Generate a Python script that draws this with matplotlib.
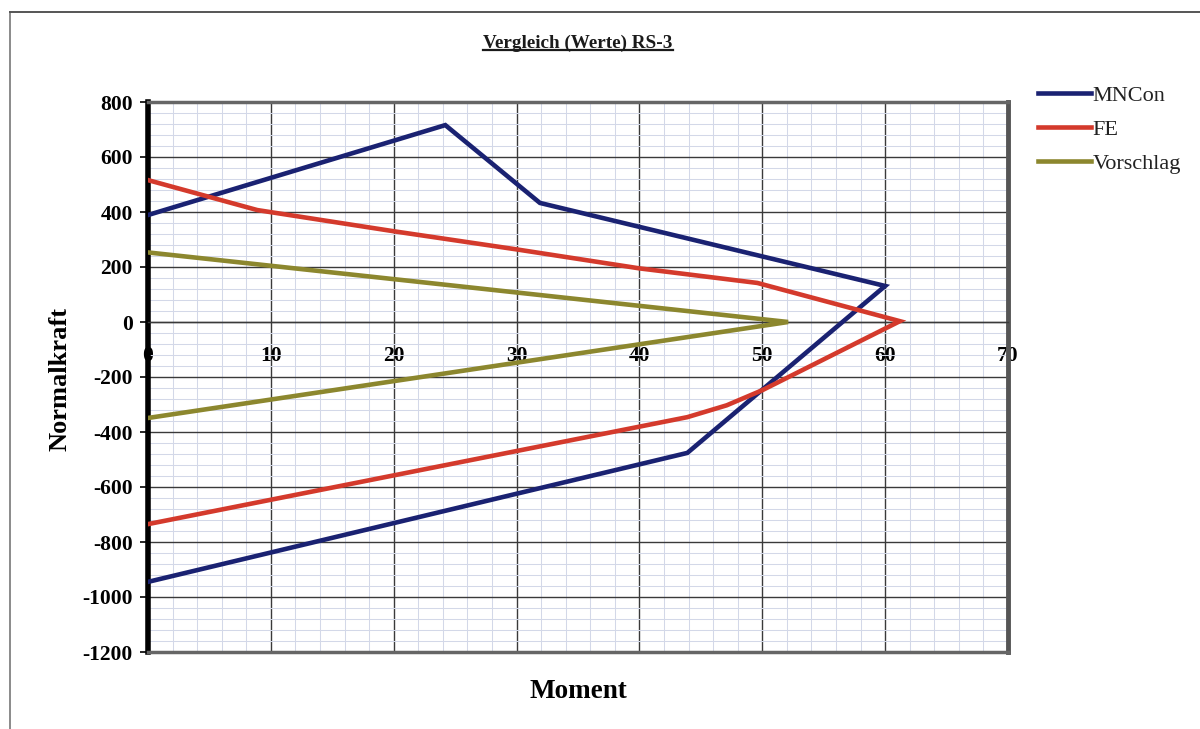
import matplotlib
matplotlib.use("Agg")
import matplotlib.pyplot as plt
from matplotlib.lines import Line2D
from matplotlib.ticker import MultipleLocator

# Interaction diagram values: Moment (x) vs. Normalkraft (y)
mncon_moment = [0, 24.2, 31.9, 60.0, 43.9, 0]
mncon_normal = [389, 716, 433, 131, -476, -945]

fe_moment = [0, 8.9, 20, 30, 40, 49.6, 61.2, 50, 47.1, 43.9, 0]
fe_normal = [516, 407, 330, 264, 195, 142, 3, -248, -303, -346, -735]

vor_moment = [0, 52.1, 0]
vor_normal = [253, 0, -349]

series_names = ["MNCon", "FE", "Vorschlag"]
series_colors = ["#1a2272", "#d43a2c", "#8c872e"]

x_ticks = [0, 10, 20, 30, 40, 50, 60, 70]
y_ticks = [800, 600, 400, 200, 0, -200, -400, -600, -800, -1000, -1200]

serif = ["Liberation Serif", "DejaVu Serif"]
plt.rcParams["font.family"] = serif

fig = plt.figure(figsize=(12, 7.29), dpi=100)
ax = fig.add_axes([148 / 1200, 1 - 652 / 729, 860 / 1200, 550 / 729])

ax.set_xlim(0, 70)
ax.set_ylim(-1200, 800)

# grid
ax.xaxis.set_major_locator(MultipleLocator(10))
ax.xaxis.set_minor_locator(MultipleLocator(2))
ax.yaxis.set_major_locator(MultipleLocator(200))
ax.yaxis.set_minor_locator(MultipleLocator(40))
ax.grid(which="minor", color="#d3d8e8", linewidth=0.75, zorder=0)
ax.grid(which="major", color="#3a3a3a", linewidth=1.0, zorder=0.5)
ax.set_axisbelow(True)

lines = []
for xs, ys, name, col in [
    (mncon_moment, mncon_normal, series_names[0], series_colors[0]),
    (fe_moment, fe_normal, series_names[1], series_colors[1]),
    (vor_moment, vor_normal, series_names[2], series_colors[2]),
]:
    (ln,) = ax.plot(xs, ys, color=col, linewidth=3.3, label=name,
                    solid_joinstyle="miter", zorder=3)
    lines.append(ln)

# axes: category axis crosses at Normalkraft = 0
ax.spines["bottom"].set_position(("data", 0))
ax.spines["bottom"].set_color("#3a3a3a")
ax.spines["bottom"].set_linewidth(1.0)
ax.spines["left"].set_color("black")
ax.spines["left"].set_linewidth(4.0)
ax.spines["top"].set_color("#666666")
ax.spines["top"].set_linewidth(2.5)
ax.spines["right"].set_color("#555555")
ax.spines["right"].set_linewidth(3.5)
# plot-area bottom border
ax.plot([0, 1], [0, 0], transform=ax.transAxes, color="#666666",
        linewidth=2.5, clip_on=False, zorder=4)

ax.set_xticks(x_ticks)
ax.set_yticks(y_ticks)
ax.set_xticklabels([str(v) for v in x_ticks])
ax.set_yticklabels([str(v) for v in y_ticks])
ax.tick_params(axis="x", which="both", length=0, pad=17)
ax.tick_params(axis="y", which="major", direction="out", length=6,
               width=1.2, pad=5.0, colors="black")
ax.tick_params(axis="y", which="minor", length=0)
for lab in ax.get_xticklabels() + ax.get_yticklabels():
    lab.set_fontweight("bold")
    lab.set_fontsize(15.5)

ax.set_xlabel("Moment", fontsize=19.5, fontweight="bold")
ax.xaxis.set_label_coords(0.5, -0.05)
ax.set_ylabel("Normalkraft", fontsize=19, fontweight="bold")
ax.yaxis.set_label_coords(-0.0895, 0.496)

leg = fig.legend(handles=lines, labels=series_names, loc="upper left",
                 bbox_to_anchor=(1038 / 1200, 1 - 85 / 729), frameon=False,
                 fontsize=16, handlelength=2.4, handletextpad=0.05,
                 labelspacing=0.62, borderaxespad=0, borderpad=0)
for t in leg.get_texts():
    t.set_color("#222222")

# title, underlined
title = fig.text(578 / 1200, 1 - 43 / 729, "Vergleich (Werte) RS-3",
                 ha="center", va="center", fontsize=13.8, fontweight="bold",
                 color="#1a1a1a")
fig.canvas.draw()
bb = title.get_window_extent().transformed(fig.transFigure.inverted())
uy = bb.y0 + 0.002
fig.add_artist(Line2D([bb.x0, bb.x1], [uy, uy], transform=fig.transFigure,
                      color="#1a1a1a", linewidth=1.6))

# chart frame
fig.add_artist(Line2D([10 / 1200, 10 / 1200], [0, 1 - 12 / 729],
                      transform=fig.transFigure, color="#777777", linewidth=1.2))
fig.add_artist(Line2D([10 / 1200, 1.0], [1 - 12 / 729, 1 - 12 / 729],
                      transform=fig.transFigure, color="#555555", linewidth=1.4))

fig.savefig("out.png", dpi=100, facecolor="white")
